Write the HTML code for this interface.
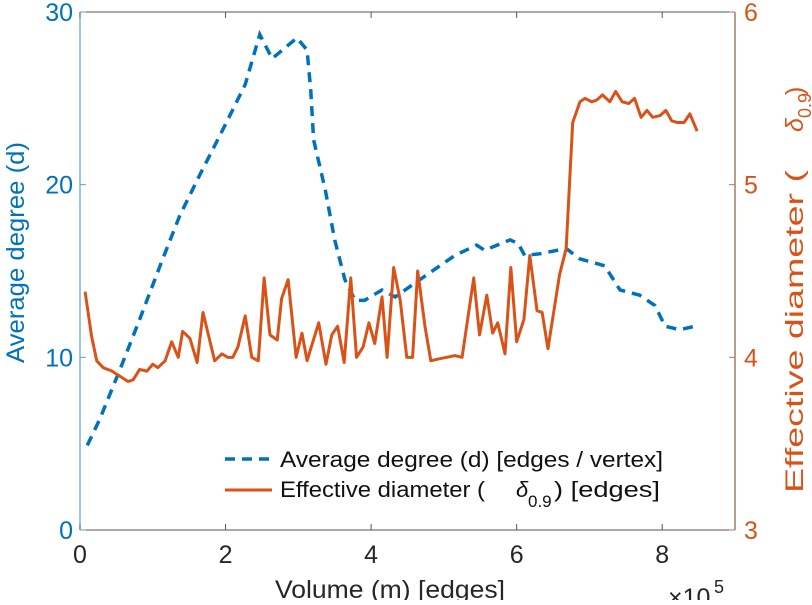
<!DOCTYPE html>
<html><head><meta charset="utf-8"><style>
body{margin:0;background:#fff}
svg{font-family:"Liberation Sans",sans-serif}
</style></head><body>
<svg id="c" width="812" height="600">
</svg>
<script>
const degX=[0.1,0.27,0.55,0.82,1.1,1.37,1.65,2.0,2.27,2.47,2.64,2.98,3.12,3.17,3.21,3.37,3.5,3.64,3.78,3.91,4.15,4.33,4.67,5.15,5.45,5.56,5.91,6.02,6.11,6.32,6.68,6.87,7.21,7.42,7.69,7.9,8.04,8.24,8.45];
const degY=[4.9,6.4,9.3,12.2,15.3,18.2,20.6,23.5,25.8,28.7,27.3,28.5,27.8,25.5,22.6,19.7,16.8,14.5,13.3,13.3,13.9,13.5,14.5,15.9,16.5,16.2,16.8,16.6,15.9,16.0,16.3,15.7,15.3,13.9,13.6,13.0,11.8,11.6,11.8];
const diaX=[0.07,0.16,0.23,0.32,0.44,0.66,0.73,0.82,0.92,1.0,1.07,1.17,1.26,1.35,1.41,1.51,1.61,1.69,1.85,1.95,2.03,2.1,2.17,2.27,2.36,2.45,2.53,2.61,2.71,2.77,2.86,2.97,3.05,3.12,3.28,3.38,3.46,3.54,3.63,3.72,3.8,3.89,3.97,4.05,4.15,4.22,4.31,4.4,4.49,4.57,4.64,4.74,4.82,4.92,5.04,5.15,5.25,5.41,5.49,5.59,5.67,5.74,5.84,5.92,6.0,6.1,6.18,6.28,6.35,6.43,6.59,6.68,6.77,6.87,6.94,7.03,7.1,7.18,7.28,7.36,7.45,7.54,7.62,7.71,7.79,7.87,7.97,8.05,8.13,8.21,8.3,8.38,8.48];
const diaY=[4.38,4.12,3.98,3.94,3.92,3.86,3.87,3.93,3.92,3.96,3.94,3.98,4.09,4.0,4.15,4.11,3.97,4.26,3.98,4.02,4.0,4.0,4.06,4.24,4.0,3.98,4.46,4.13,4.1,4.34,4.45,4.0,4.14,3.98,4.2,3.96,4.13,4.18,3.97,4.46,4.0,4.06,4.2,4.08,4.35,4.0,4.52,4.33,4.0,4.0,4.5,4.18,3.98,3.99,4.0,4.01,4.0,4.46,4.13,4.36,4.14,4.2,4.02,4.52,4.09,4.22,4.59,4.27,4.26,4.05,4.48,4.63,5.36,5.48,5.5,5.48,5.49,5.52,5.48,5.54,5.48,5.47,5.5,5.39,5.43,5.39,5.4,5.43,5.37,5.36,5.36,5.41,5.31];
const xTicks=[0,2,4,6,8];
const yLTicks=[0,10,20,30];
const yRTicks=[3,4,5,6];

const L=80,R=735,T=12,B=530;
const sx=v=>L+(v-0)/9*(R-L);
const syL=v=>B-(v-0)/30*(B-T);
const syR=v=>B-(v-3)/3*(B-T);
const svg=document.getElementById('c');
const NS='http://www.w3.org/2000/svg';
function mk(tag,attrs,txt){const e=document.createElementNS(NS,tag);for(const k in attrs)e.setAttribute(k,attrs[k]);if(txt!==undefined)e.textContent=txt;svg.appendChild(e);return e;}
const BL='#0072BD',OR='#D95319',BL2='#5AA0D0',OR2='#A87A6C';

let e;
e=mk('line',{x1:L,y1:T,x2:R,y2:T,stroke:'#555','stroke-width':1});


e=mk('line',{x1:L,y1:B,x2:R,y2:B,stroke:'#555','stroke-width':1});


e=mk('line',{x1:L,y1:T,x2:L,y2:B,stroke:BL2,'stroke-width':1.2});


e=mk('line',{x1:R,y1:T,x2:R,y2:B,stroke:OR2,'stroke-width':1.5});



xTicks.forEach(v=>{
  e=mk('line',{x1:sx(v),y1:B,x2:sx(v),y2:B-6,stroke:'#555'});
  
  
  e=mk('line',{x1:sx(v),y1:T,x2:sx(v),y2:T+6,stroke:'#555'});
  
  
  e=mk('text',{x:sx(v),y:B+33,'text-anchor':'middle','font-size':25,fill:'#262626'},v);
  
  
});
yLTicks.forEach(v=>{
  e=mk('line',{x1:L,y1:syL(v),x2:L+6,y2:syL(v),stroke:BL2});
  
  
  e=mk('text',{x:L-7,y:syL(v)+9,'text-anchor':'end','font-size':25,fill:BL},v);
  
  
});
yRTicks.forEach(v=>{
  e=mk('line',{x1:R,y1:syR(v),x2:R-6,y2:syR(v),stroke:OR2});
  
  
  e=mk('text',{x:R+9,y:syR(v)+9,'text-anchor':'start','font-size':25,fill:OR},v);
  
  
});

e=mk('polyline',{points:degX.map((x,i)=>sx(x)+','+syL(degY[i])).join(' '),fill:'none',stroke:BL,'stroke-width':3.5,'stroke-dasharray':'10,7'});


e=mk('polyline',{points:diaX.map((x,i)=>sx(x)+','+syR(diaY[i])).join(' '),fill:'none',stroke:OR,'stroke-width':3,'stroke-linejoin':'round'});



e=mk('line',{x1:225,y1:459,x2:272,y2:459,stroke:BL,'stroke-width':3.5,'stroke-dasharray':'10,7'});


e=mk('text',{x:280,y:467,'font-size':22,fill:'#111',textLength:383,lengthAdjust:'spacingAndGlyphs'},'Average degree (d) [edges / vertex]');


e=mk('line',{x1:225,y1:490,x2:272,y2:490,stroke:OR,'stroke-width':3});


e=mk('text',{x:280,y:497,'font-size':22,fill:'#111',textLength:205,lengthAdjust:'spacingAndGlyphs'},'Effective diameter (');


e=mk('text',{x:516,y:497,'font-size':22,'font-style':'italic',fill:'#111'},'δ');


e=mk('text',{x:528,y:507,'font-size':17,fill:'#111'},'0.9');


e=mk('text',{x:554,y:497,'font-size':22,fill:'#111',textLength:106,lengthAdjust:'spacingAndGlyphs'},') [edges]');



e=mk('text',{x:275,y:598,'font-size':25,fill:'#262626',textLength:230,lengthAdjust:'spacingAndGlyphs'},'Volume (m) [edges]');


e=mk('text',{x:668,y:606,'font-size':25,fill:'#262626'},'×10');


e=mk('text',{x:714,y:593,'font-size':18,fill:'#262626'},'5');


e=mk('text',{x:-363,y:24,'font-size':25,fill:BL,transform:'rotate(-90)',textLength:221,lengthAdjust:'spacingAndGlyphs'},'Average degree (d)');


e=mk('text',{x:-493,y:803,'font-size':25,fill:OR,transform:'rotate(-90)',textLength:323,lengthAdjust:'spacingAndGlyphs'},'Effective diameter (');


e=mk('text',{x:-132,y:803,'font-size':25,'font-style':'italic',fill:OR,transform:'rotate(-90)'},'δ');


e=mk('text',{x:-118,y:811,'font-size':18,fill:OR,transform:'rotate(-90)'},'0.9');


e=mk('text',{x:-95,y:803,'font-size':25,fill:OR,transform:'rotate(-90)'},')');


</script>
</body></html>
